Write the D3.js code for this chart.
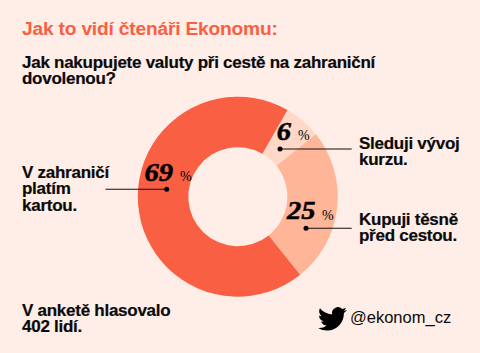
<!DOCTYPE html>
<html><head><meta charset="utf-8">
<script src="https://cdn.jsdelivr.net/npm/d3@7/dist/d3.min.js"></script>
<style>html,body{margin:0;padding:0;background:#FFEEE8}svg{display:block}
text{font-family:"Liberation Sans",sans-serif;fill:#0a0a0a}
.b{font-weight:700;font-size:17px;letter-spacing:-.26px;stroke:#0a0a0a;stroke-width:.2px}
.pct{font-family:"Liberation Serif",serif;font-style:italic;font-weight:700;fill:#000;stroke:#000;stroke-width:.5px}
.sign{font-family:"Liberation Serif",serif;font-size:14px;font-weight:400;fill:#000}
</style></head><body><svg id="c" width="480" height="353"></svg>
<script>
const categories=["Sleduji vývoj kurzu.","Kupuji těsně před cestou.","V zahraničí platím kartou."];
const values=[6,25,69];
const colors=["#FFD8C8","#FFB698","#F95F42"];
const pctLabels=["6","25","69"];
const labelLines=[["Sleduji vývoj","kurzu."],["Kupuji těsně","před cestou."],["V zahraničí","platím","kartou."]];
const title="Jak to vidí čtenáři Ekonomu:";
const question=["Jak nakupujete valuty při cestě na zahraniční","dovolenou?"];
const note=["V anketě hlasovalo","402 lidí."];
const handle="@ekonom_cz";

const svg=d3.select("#c");
svg.append("rect").attr("width",480).attr("height",353).attr("fill","#FFEEE8");
svg.append("text").attr("x",22).attr("y",35).attr("font-size",19.2).attr("font-weight",700).attr("letter-spacing","-.2px").style("fill","#F95F42").text(title);

function block(lines,x,y,cls,lh){
 const t=svg.append("text").attr("class",cls).attr("x",x).attr("y",y);
 lines.forEach((s,i)=>t.append("tspan").attr("x",x).attr("dy",i?lh:0).text(s));
}
block(question,22,68,"b",16);

const cx=237.8,cy=196.7;
const pie=d3.pie().sort(null).startAngle(29.8*Math.PI/180).endAngle((360+29.8)*Math.PI/180)(values);
const arc=d3.arc().innerRadius(49.5).outerRadius(100);
const g=svg.append("g").attr("transform",`translate(${cx},${cy})`);
g.selectAll("path").data(pie).join("path").attr("d",arc).attr("fill",(d,i)=>colors[i]);

const place=[
 {px:276.7,py:140,sx:298,sy:139.5,dx:280,dy:149,lx:351.7,tx:359,ty:149},
 {px:287,py:219.3,sx:322,sy:219.5,dx:306,dy:228.3,lx:351.7,tx:359,ty:225},
 {px:144.5,py:180.7,sx:180,sy:180.7,dx:166.7,dy:189.3,lx:105.5,tx:22,ty:178}];
place.forEach((p,i)=>{
 svg.append("line").attr("x1",p.dx).attr("y1",p.dy).attr("x2",p.lx).attr("y2",p.dy).attr("stroke","#111").attr("stroke-width",1.1);
 svg.append("circle").attr("cx",p.dx).attr("cy",p.dy).attr("r",2.5).attr("fill","#000");
 svg.append("text").attr("class","pct").attr("transform",`translate(${p.px},${p.py}) scale(1.14,1)`).attr("font-size",25).text(pctLabels[i]);
 svg.append("text").attr("class","sign").attr("x",p.sx).attr("y",p.sy).text("%");
 block(labelLines[i],p.tx,p.ty,"b",16.4);
});
block(note,22,316,"b",16);
svg.append("path").attr("transform","translate(318,304.5) scale(1.2)").attr("fill","#000")
 .attr("d","M23.953 4.57a10 10 0 01-2.825.775 4.958 4.958 0 002.163-2.723c-.951.555-2.005.959-3.127 1.184a4.92 4.92 0 00-8.384 4.482C7.69 8.095 4.067 6.13 1.64 3.162a4.822 4.822 0 00-.666 2.475c0 1.71.87 3.213 2.188 4.096a4.904 4.904 0 01-2.228-.616v.06a4.923 4.923 0 003.946 4.827 4.996 4.996 0 01-2.212.085 4.936 4.936 0 004.604 3.417 9.867 9.867 0 01-6.102 2.105c-.39 0-.779-.023-1.17-.067a13.995 13.995 0 007.557 2.209c9.053 0 13.998-7.496 13.998-13.985 0-.21 0-.42-.015-.63A9.935 9.935 0 0024 4.59z");
svg.append("text").attr("x",350).attr("y",323).attr("font-size",16.5).text(handle);
</script></body></html>
